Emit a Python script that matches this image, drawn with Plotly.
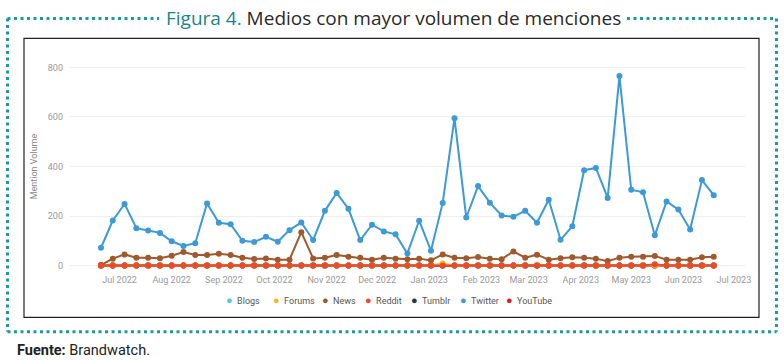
import plotly.graph_objects as go
import pandas as pd

# ---------------- data ----------------
week_start = "2022-06-20"
n_weeks = 53
weeks = pd.date_range(week_start, periods=n_weeks, freq="7D")

twitter = [72, 182, 249, 151, 142, 132, 98, 79, 90, 251, 173, 167, 100, 95, 116, 96, 143, 174,
           103, 221, 293, 229, 103, 165, 138, 126, 49, 181, 60, 253, 595, 194, 321, 254, 202,
           197, 221, 173, 266, 104, 159, 385, 394, 273, 765, 306, 296, 122, 259, 226, 146, 345, 284]
news = [2, 28, 45, 32, 32, 30, 40, 55, 43, 43, 48, 43, 32, 27, 29, 24, 24, 135, 29, 32, 43, 36,
        32, 24, 32, 28, 26, 28, 21, 45, 32, 30, 35, 28, 26, 57, 32, 44, 24, 30, 34, 32, 28, 18,
        32, 36, 36, 39, 24, 24, 24, 34, 36]
reddit = [0, 0, 0, 0, 0, 0, 0, 0, 0, 0, 0, 0, 0, 0, 0, 0, 0, 0, 0, 0, 0, 0, 0, 0, 0, 0, 0,
          0, 0, 0, 0, 0, 0, 0, 0, 0, 0, 0, 0, 0, 0, 0, 0, 0, 0, 0, 0, 5, 0, 0, 0, 0, 0]
forums = [0, 0, 0, 0, 0, 0, 0, 0, 0, 0, 0, 0, 0, 0, 0, 0, 0, 0, 0, 0, 0, 0, 0, 0, 0, 0, 0,
          0, 0, 8, 0, 0, 0, 0, 0, 0, 0, 3, 0, 0, 0, 0, 0, 0, 0, 0, 0, 0, 0, 0, 0, 0, 0]
blogs = [0] * n_weeks
tumblr = [0] * n_weeks
youtube = [0] * n_weeks

legend_names = ["Blogs", "Forums", "News", "Reddit", "Tumblr", "Twitter", "YouTube"]
y_ticks = [0, 200, 400, 600, 800]

colors = {
    "Blogs": "#5cc2ea",
    "Forums": "#f6b81c",
    "News": "#a0582d",
    "Reddit": "#ea4a2c",
    "Tumblr": "#26374f",
    "Twitter": "#3c9ad8",
    "YouTube": "#d21f2b",
}

# ---------------- figure geometry ----------------
W, H = 784, 361
L, R = 70, 745          # plot area in pixels (x)
T, B = 59.6, 272.7      # plot area in pixels (y)
legend_x_px = [228, 275, 324, 367, 413, 462, 508]   # legend dot centres (layout)
legend_y_px = 300.7


def px(x):
    return (x - L) / (R - L)


def py(y):
    return (B - y) / (B - T)


fig = go.Figure()

series = [("Blogs", blogs), ("Tumblr", tumblr), ("YouTube", youtube), ("Forums", forums),
          ("News", news), ("Reddit", reddit), ("Twitter", twitter)]
for name, vals in series:
    fig.add_trace(go.Scatter(
        x=weeks, y=vals, mode="lines+markers", name=name, showlegend=False,
        line=dict(color=colors[name], width=2),
        marker=dict(color=colors[name], size=6),
        hoverinfo="x+y+name",
    ))

teal = "#1b9aa0"
dot = "3px,3.5px"
shapes = [
    dict(type="rect", xref="paper", yref="paper", x0=px(24), x1=px(759), y0=py(317), y1=py(38),
         line=dict(color="#222222", width=1.2), layer="below"),
    dict(type="line", xref="paper", yref="paper", x0=px(7.5), x1=px(7.5), y0=py(18), y1=py(331.5),
         line=dict(color=teal, width=3, dash=dot)),
    dict(type="line", xref="paper", yref="paper", x0=px(776.5), x1=px(776.5), y0=py(18), y1=py(331.5),
         line=dict(color=teal, width=3, dash=dot)),
    dict(type="line", xref="paper", yref="paper", x0=px(7.5), x1=px(776.5), y0=py(331.5), y1=py(331.5),
         line=dict(color=teal, width=3, dash=dot)),
    dict(type="line", xref="paper", yref="paper", x0=px(7.5), x1=px(159), y0=py(18), y1=py(18),
         line=dict(color=teal, width=3, dash=dot)),
    dict(type="line", xref="paper", yref="paper", x0=px(627), x1=px(776.5), y0=py(18), y1=py(18),
         line=dict(color=teal, width=3, dash=dot)),
]

annotations = [
    dict(xref="paper", yref="paper", x=px(393.5), y=py(18), xanchor="center", yanchor="middle",
         showarrow=False,
         text="<span style='color:#17868b'>Figura 4.</span> Medios con mayor volumen de menciones",
         font=dict(family="Open Sans", size=19, color="#2a2a2a", weight=500)),
    dict(xref="paper", yref="paper", x=px(15), y=py(350.5), xanchor="left", yanchor="middle",
         showarrow=False, text="<b>Fuente:</b> Brandwatch.",
         font=dict(family="Roboto", size=14.5, color="#222222")),
]

# legend (dot + label) as text
for name, lx in zip(legend_names, legend_x_px):
    annotations.append(dict(
        xref="paper", yref="paper", x=px(lx - 4), y=py(legend_y_px),
        xanchor="left", yanchor="middle", showarrow=False,
        text=f"<span style='color:{colors[name]};font-size:11px'>●</span>&nbsp;&nbsp;{name}",
        font=dict(family="Roboto", size=9, color="#555555"),
    ))

fig.update_layout(
    width=W, height=H,
    margin=dict(l=L, r=W - R, t=T, b=H - B, pad=0),
    paper_bgcolor="white", plot_bgcolor="white",
    font=dict(family="Roboto", size=9, color="#888888"),
    shapes=shapes, annotations=annotations,
    showlegend=False,
    xaxis=dict(type="date", range=["2022-06-01 14:00", "2023-07-07 14:00"],
               dtick="M1", tickformat="%b %Y", showgrid=False, zeroline=False,
               showline=False, ticks="", tickfont=dict(size=9, color="#999999")),
    yaxis=dict(range=[-30, 830], tickvals=y_ticks, gridcolor="#eeeeee", gridwidth=1,
               zeroline=False, showline=False, ticks="", ticklabelstandoff=6,
               tickfont=dict(size=9, color="#999999"),
               title=dict(text="Mention Volume", standoff=8, font=dict(size=9, color="#888888"))),
)

fig.write_html("out.html", config={"displayModeBar": False},
               post_script="document.body.style.margin='0';document.body.style.overflow='hidden';")
